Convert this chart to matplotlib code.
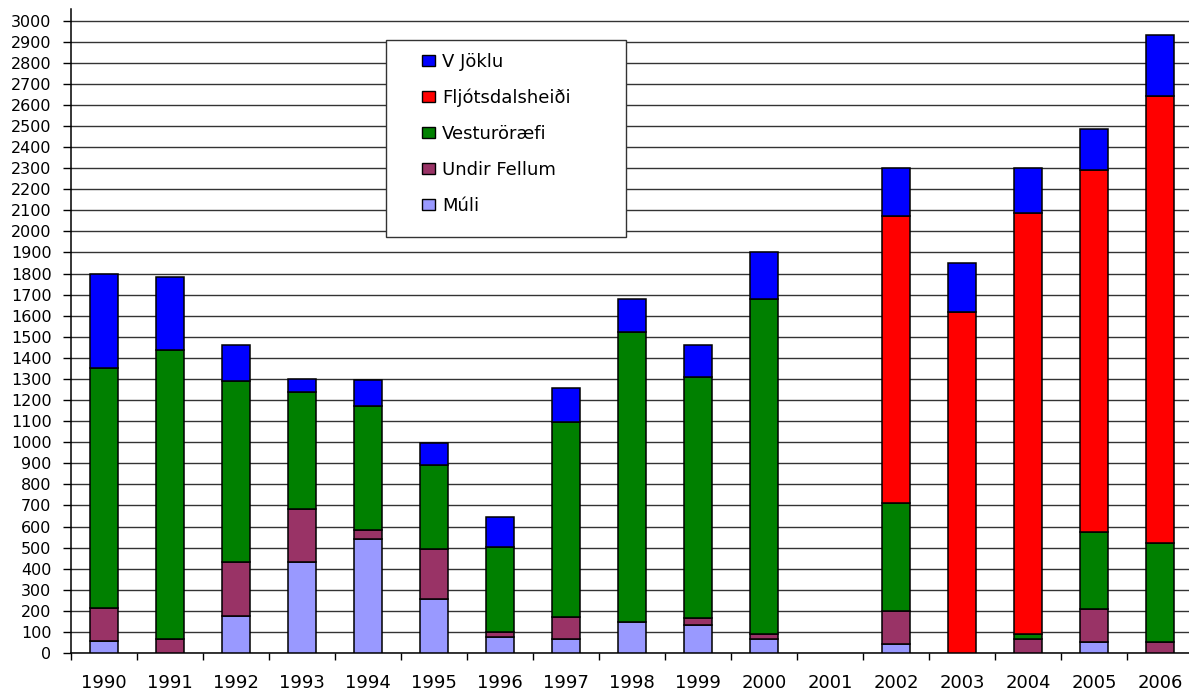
import numpy as np
import matplotlib.pyplot as plt
from matplotlib.patches import Rectangle, Patch

plt.rcParams['font.family'] = ['DejaVu Sans']

years = ['1990', '1991', '1992', '1993', '1994', '1995', '1996', '1997', '1998',
         '1999', '2000', '2001', '2002', '2003', '2004', '2005', '2006']

# stacked from bottom to top
muli = [55, 0, 177, 430, 541, 255, 78, 65, 149, 134, 65, 0, 44, 0, 0, 52, 0]
undir_fellum = [160, 65, 253, 253, 43, 239, 20, 107, 0, 31, 27, 0, 155, 0, 65, 155, 51]
vesturoraefi = [1135, 1370, 858, 554, 588, 400, 407, 923, 1376, 1146, 1588, 0, 513, 0, 27, 366, 471]
fljotsdalsheidi = [0, 0, 0, 0, 0, 0, 0, 0, 0, 0, 0, 0, 1362, 1617, 1995, 1719, 2118]
v_joklu = [450, 350, 174, 63, 121, 104, 142, 164, 155, 151, 220, 0, 226, 233, 213, 195, 290]

series = [
    ('Múli', muli, '#9999ff'),
    ('Undir Fellum', undir_fellum, '#993366'),
    ('Vesturöræfi', vesturoraefi, '#008000'),
    ('Fljótsdalsheiði', fljotsdalsheidi, '#ff0000'),
    ('V Jöklu', v_joklu, '#0000ff'),
]

fig = plt.figure(figsize=(11.89, 6.91), dpi=100)
ax = fig.add_axes([71/1189, 38/691, 1122/1189, 644/691])

x = np.arange(len(years))
bottom = np.zeros(len(years))
for name, vals, col in series:
    vals = np.array(vals, dtype=float)
    b = ax.bar(x, vals, width=0.42, bottom=bottom, color=col,
               edgecolor='black', linewidth=1.1, zorder=3)
    for rect, v in zip(b.patches, vals):
        if v == 0:
            rect.set_visible(False)  # no outline for empty segments
    bottom += vals

ax.set_xlim(-0.5, len(years) - 0.5)
ax.set_ylim(0, 3055)
ax.set_yticks(np.arange(0, 3001, 100))
ax.yaxis.grid(True, color='#333333', linewidth=1.0, zorder=0)
ax.set_axisbelow(True)

ax.set_xticks(x)
ax.set_xticklabels(years, fontsize=13)
ax.set_xticks(np.arange(-0.5, len(years)), minor=True)
ax.tick_params(axis='x', which='major', length=0, pad=15)
ax.tick_params(axis='x', which='minor', length=5, width=1, color='black', direction='out')
ax.tick_params(axis='y', length=6, width=1, pad=8, labelsize=11.5)

for s in ['top', 'right']:
    ax.spines[s].set_visible(False)
ax.spines['left'].set_linewidth(1.1)
ax.spines['bottom'].set_linewidth(1.1)

# legend box
ax.add_patch(Rectangle((0.281, 0.646), 0.214, 0.306, transform=ax.transAxes,
                       facecolor='white', edgecolor='#333333', linewidth=1.0, zorder=4))
handles = [Patch(facecolor=col, edgecolor='black', linewidth=1.0, label=name)
           for name, vals, col in series[::-1]]
leg = ax.legend(handles=handles, loc='upper left', bbox_to_anchor=(0.3065, 0.943),
                frameon=False, fontsize=13, handlelength=0.72, handleheight=0.56,
                handletextpad=0.4, labelspacing=0.99, borderaxespad=0)
leg.set_zorder(5)

plt.savefig('out.png', dpi=100)
